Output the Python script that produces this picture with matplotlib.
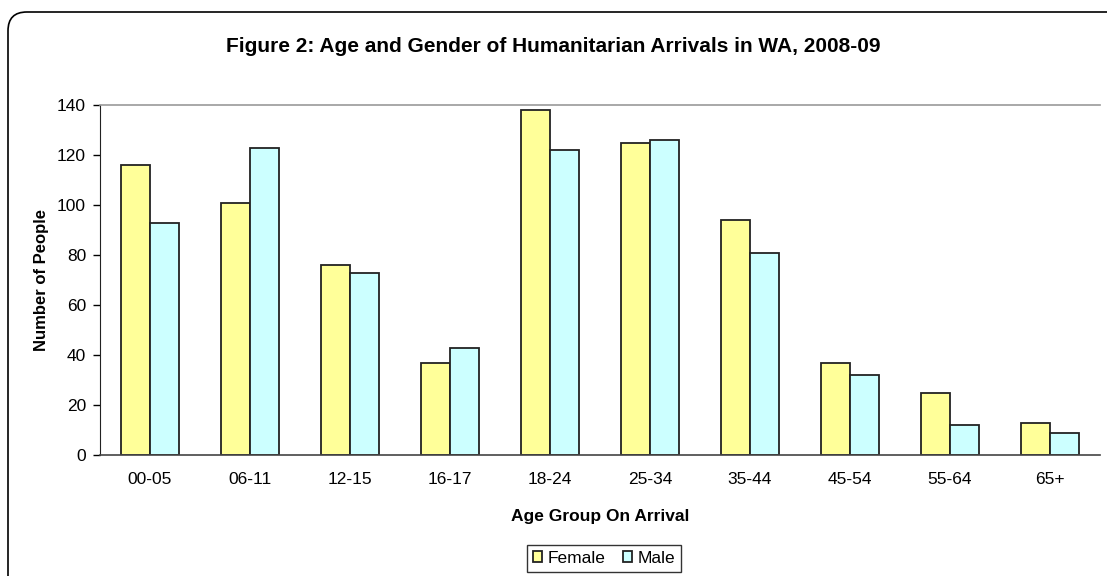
import matplotlib.pyplot as plt
import numpy as np
from matplotlib.patches import FancyBboxPatch

plt.rcParams['font.family'] = ['Liberation Sans', 'DejaVu Sans']

age_groups = ['00-05', '06-11', '12-15', '16-17', '18-24', '25-34', '35-44', '45-54', '55-64', '65+']
female = [116, 101, 76, 37, 138, 125, 94, 37, 25, 13]
male = [93, 123, 73, 43, 122, 126, 81, 32, 12, 9]

W, H = 1107, 576
fig = plt.figure(figsize=(W / 100, H / 100), dpi=100)

# rounded chart border, running off the right and bottom edges
frame = FancyBboxPatch((8 / W, -0.2), 1.2, 1 - 12 / H + 0.2,
                       boxstyle='round,pad=0,rounding_size=0.017',
                       transform=fig.transFigure, facecolor='white',
                       edgecolor='black', linewidth=1.2, zorder=-5,
                       mutation_aspect=W / H)
fig.patches.append(frame)

ax = fig.add_axes([100 / W, 1 - 455 / H, 1000 / W, 350 / H])
ax.set_facecolor('none')

x = np.arange(len(age_groups))
bw = 0.29
ax.bar(x - bw / 2, female, bw, color='#FFFF99', edgecolor='#222222', linewidth=1.3, label='Female')
ax.bar(x + bw / 2, male, bw, color='#CCFFFF', edgecolor='#222222', linewidth=1.3, label='Male')

ax.set_xlim(-0.5, len(age_groups) - 0.5)
ax.set_ylim(0, 140)
ax.set_yticks(range(0, 141, 20))
ax.set_xticks(x)
ax.set_xticklabels(age_groups)
ax.tick_params(axis='x', length=0, pad=12, labelsize=12.5)
ax.tick_params(axis='y', length=5, width=1, labelsize=12.5, pad=5, direction='out')

ax.spines['right'].set_visible(False)
ax.spines['top'].set_color('#999999')
ax.spines['top'].set_linewidth(1.2)
ax.spines['left'].set_color('#222222')
ax.spines['bottom'].set_color('#444444')
ax.spines['bottom'].set_linewidth(1.2)

ax.set_xlabel('Age Group On Arrival', fontsize=12.5, fontweight='bold', labelpad=16)
ax.set_ylabel('Number of People', fontsize=12, fontweight='bold', labelpad=6)

fig.text(553 / W, 1 - 47 / H, 'Figure 2: Age and Gender of Humanitarian Arrivals in WA, 2008-09',
         ha='center', va='center', fontsize=15, fontweight='bold')

leg = fig.legend(loc='upper center', bbox_to_anchor=(604 / W, 1 - 536 / H), ncol=2,
                 frameon=True, fancybox=False, edgecolor='black', fontsize=12.5,
                 handlelength=0.55, handleheight=0.55, handletextpad=0.3,
                 columnspacing=1.0, borderpad=0.35)
leg.get_frame().set_linewidth(1.0)

fig.savefig('out.png', dpi=100)
